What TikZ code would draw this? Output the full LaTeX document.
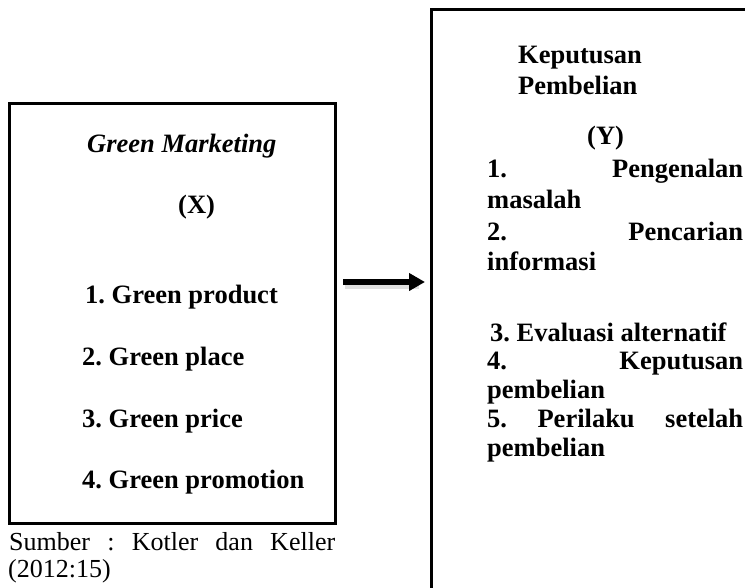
\documentclass[tikz,border=0pt]{standalone}
\usepackage{fontspec}
\setmainfont{Liberation Serif}
\usetikzlibrary{arrows.meta}
\frenchspacing
\begin{document}
\frenchspacing
\begin{tikzpicture}[x=1pt,y=-1pt,
  box/.style={draw, line width=3pt, inner sep=0pt},
  txt/.style={anchor=base west, inner sep=0pt, font=\fontsize{26.5pt}{30pt}\selectfont\bfseries},
  txti/.style={anchor=base west, inner sep=0pt, font=\fontsize{26.5pt}{30pt}\selectfont\bfseries\itshape},
  src/.style={anchor=base west, inner sep=0pt, font=\fontsize{26pt}{30pt}\selectfont},
  conn/.style={line width=5.5pt, -{Triangle[length=16pt,width=17pt]}},
  shadowline/.style={line width=6pt, black!25, opacity=0.5}]
\useasboundingbox (0,0) rectangle (745,587);
\clip (0,0) rectangle (745,587);
% boxes
\node[box, minimum width=326pt, minimum height=420pt] (L) at (172,313) {};
\node[box, minimum width=400pt, minimum height=700pt] (R) at (631,359) {};
% left box text
\node[txti] (gm) at (87,152) {Green Marketing};
\node[txt] (x) at (178,213) {(X)};
\node[txt] (l1) at (85,303) {1. Green product};
\node[txt] (l2) at (82,365) {2. Green place};
\node[txt] (l3) at (82,427) {3. Green price};
\node[txt] (l4) at (82,488) {4. Green promotion};
\node[src] (s1) at (9,550) {\makebox[326pt][s]{Sumber : Kotler dan Keller}};
\node[src] (s2) at (8,577) {(2012:15)};
% right box text
\node[txt] (r0a) at (518,63) {Keputusan};
\node[txt] (r0b) at (518,94) {Pembelian};
\node[txt] (y) at (587,144) {(Y)};
\node[txt] (r1a) at (487,177) {\makebox[256pt][s]{1. Pengenalan}};
\node[txt] (r1b) at (487,208) {masalah};
\node[txt] (r2a) at (487,240) {\makebox[256pt][s]{2. Pencarian}};
\node[txt] (r2b) at (487,270) {informasi};
\node[txt] (r3) at (490,341) {3. Evaluasi alternatif};
\node[txt] (r4a) at (487,369) {\makebox[256pt][s]{4. Keputusan}};
\node[txt] (r4b) at (487,398) {pembelian};
\node[txt] (r5a) at (487,427) {\makebox[256pt][s]{5. Perilaku setelah}};
\node[txt] (r5b) at (487,456) {pembelian};
% arrow
\coordinate (a1) at (343,282);
\coordinate (a2) at (425,282);
\draw[shadowline] ([shift={(2,4)}]a1) -- ([shift={(-6,4)}]a2);
\draw[conn] (a1) -- (a2);
\end{tikzpicture}
\end{document}
